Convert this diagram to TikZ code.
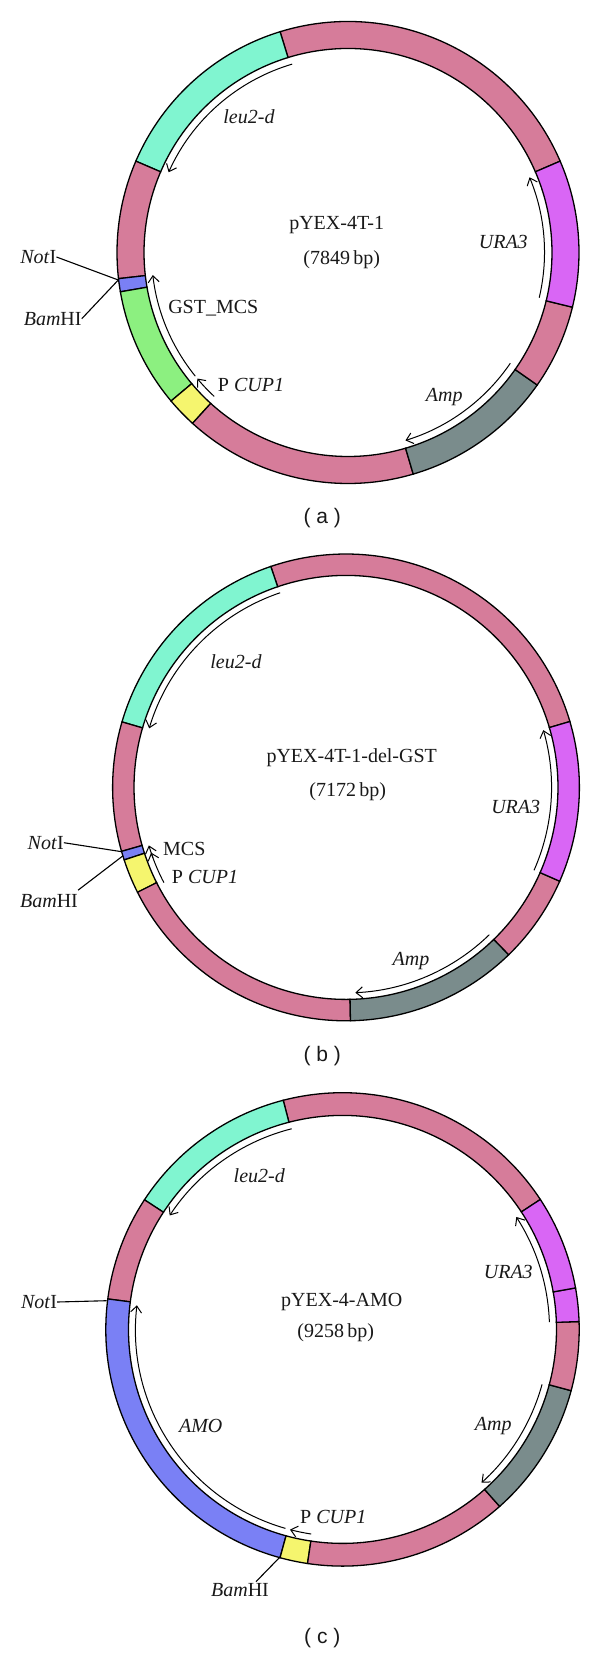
\documentclass[tikz,border=0pt]{standalone}
\usepackage{fontspec}
\setmainfont{Liberation Serif}
\setsansfont{Liberation Sans}
\usetikzlibrary{arrows.meta,calc}
\definecolor{rpink}{HTML}{D67C9A}
\definecolor{rteal}{HTML}{80F5D0}
\definecolor{rmag}{HTML}{D966F5}
\definecolor{rgray}{HTML}{7A8C8C}
\definecolor{rgreen}{HTML}{8CF080}
\definecolor{ryellow}{HTML}{F5F56E}
\definecolor{rblue}{HTML}{7A80F5}
\tikzset{
  ringseg/.style={draw=black,line width=1.3pt,line join=miter},
  geneline/.style={draw=black,line width=1pt,-{Straight Barb[length=6.5pt,width=11pt,line width=1pt]}},
  siteline/.style={draw=black,line width=1.1pt},
  lab/.style={font=\fontsize{20}{22}\selectfont,inner sep=0pt,text=black!90,yshift=-1pt},
  captext/.style={font=\sffamily\fontsize{21}{23}\selectfont,inner sep=0pt,text=black!90},
}
% \seg{colour}{start}{end}: ring band between angles, using \cx \cy \ro \ri
\newcommand{\seg}[3]{%
  \filldraw[ringseg,fill=#1] ($(\cx,\cy)+(#2:\ro pt)$) arc[start angle=#2,end angle=#3,radius=\ro pt]
    -- ($(\cx,\cy)+(#3:\ri pt)$) arc[start angle=#3,end angle=#2,radius=\ri pt] -- cycle;}
% \gene{name}{start}{end}: arrow along the circle of radius \ra
\newcommand{\gene}[3]{%
  \coordinate (#1) at ($(\cx,\cy)+(#2:\ra pt)$);
  \draw[geneline] (#1) arc[start angle=#2,end angle=#3,radius=\ra pt];}
\begin{document}
\begin{tikzpicture}[x=1pt,y=1pt]
\useasboundingbox[fill=white] (0,0) rectangle (600,-1654);
% ---------- a ----------
\def\cx{348}\def\cy{-252.5}\def\ro{231}\def\ri{204}\def\ra{196.5}
\seg{rpink}{23.3}{107.1}
\seg{rteal}{107.1}{156.7}
\seg{rpink}{156.7}{186.5}
\seg{rblue}{186.5}{189.8}
\seg{rgreen}{189.8}{220}
\seg{ryellow}{220}{227.7}
\seg{rpink}{227.7}{286.4}
\seg{rgray}{286.4}{325}
\seg{rpink}{325}{346.3}
\seg{rmag}{346.3}{383.3}
\gene{aleu}{106.5}{155.9}
\gene{aura}{-13.3}{22.5}
\gene{aamp}{-34.3}{-73}
\gene{agst}{219}{186.6}
\gene{acup}{227.1}{219.9}
\coordinate (asite) at (118.3,-280);
\node[lab] (anot) at (38.3,-256) {\textit{Not}I};
\node[lab] (abam) at (52.7,-317.7) {\textit{Bam}HI};
\draw[siteline] (anot.east) -- (asite);
\draw[siteline] (abam.east) -- (asite);
\node[lab] (anam) at (336.7,-223.8) {pYEX-4T-1};
\node[lab] (asiz) at (341.7,-258.6) {(7849\,bp)};
\node[lab] (alleu) at (249,-115.6) {\textit{leu2-d}};
\node[lab] (alura) at (503.3,-241) {\textit{URA3}};
\node[lab] (alamp) at (444.3,-396) {\textit{Amp}};
\node[lab] (algst) at (213.3,-307.6) {GST\_MCS};
\node[lab] (alcup) at (251,-383.6) {P \textit{CUP1}};
\node[captext] (acap) at (322.3,-518) {( a )};
% ---------- b ----------
\def\cx{346}\def\cy{-787.4}\def\ro{233.4}\def\ri{212}\def\ra{205.5}
\seg{rpink}{16.4}{108.8}
\seg{rteal}{108.8}{163.7}
\seg{rpink}{163.7}{195.9}
\seg{rblue}{195.9}{198.1}
\seg{ryellow}{198.1}{206.7}
\seg{rpink}{206.7}{271.1}
\seg{rgray}{271.1}{314.2}
\seg{rpink}{314.2}{336.3}
\seg{rmag}{336.3}{376.4}
\gene{bleu}{108.7}{163.3}
\gene{bura}{-23.8}{16.2}
\gene{bamp}{-45.8}{-87.4}
\gene{bmcs}{200}{196.4}
\gene{bcup}{207.6}{198.5}
\coordinate (bsiten) at (121.7,-851.7);
\coordinate (bsiteb) at (122.7,-856);
\node[lab] (bnot) at (45.7,-841.7) {\textit{Not}I};
\node[lab] (bbam) at (49,-900) {\textit{Bam}HI};
\draw[siteline] (bnot.east) -- (bsiten);
\draw[siteline] ($(bbam.north east)+(0,4)$) -- (bsiteb);
\node[lab] (bnam) at (351.7,-756.2) {pYEX-4T-1-del-GST};
\node[lab] (bsiz) at (347.7,-790.7) {(7172\,bp)};
\node[lab] (blleu) at (236,-660.8) {\textit{leu2-d}};
\node[lab] (blura) at (515.7,-805.5) {\textit{URA3}};
\node[lab] (blamp) at (411,-960.4) {\textit{Amp}};
\node[lab] (blmcs) at (184.3,-847.8) {MCS};
\node[lab] (blcup) at (205,-876) {P \textit{CUP1}};
\node[captext] (bcap) at (322.3,-1055.8) {( b )};
% ---------- c ----------
\def\cx{342.5}\def\cy{-1329.4}\def\ro{236.7}\def\ri{214}\def\ra{207}
\seg{rpink}{33.3}{104.5}
\seg{rteal}{104.5}{146.8}
\seg{rpink}{146.8}{172.6}
\seg{rblue}{172.6}{254.7}
\seg{ryellow}{254.7}{261.5}
\seg{rpink}{261.5}{311.6}
\seg{rgray}{311.6}{345}
\seg{rpink}{345}{361.9}
\seg{rmag}{361.9}{370.1}
\seg{rmag}{370.1}{393.3}
\gene{cleu}{104.2}{146.6}
\gene{cura}{2}{32.9}
\gene{camp}{-15.4}{-47.8}
\gene{camo}{254}{173.3}
\gene{ccup}{261.3}{255.3}
\coordinate (csiten) at (106.7,-1300.7);
\coordinate (csiteb) at (280,-1557);
\node[lab] (cnot) at (39,-1301) {\textit{Not}I};
\node[lab] (cbam) at (240,-1589.5) {\textit{Bam}HI};
\draw[siteline] (cnot.east) -- (csiten);
\draw[siteline] ($(cbam.north)+(16,2)$) -- (csiteb);
\node[lab] (cnam) at (341.7,-1301.4) {pYEX-4-AMO};
\node[lab] (csiz) at (335.7,-1331.4) {(9258\,bp)};
\node[lab] (clleu) at (259.3,-1174.4) {\textit{leu2-d}};
\node[lab] (clura) at (508.3,-1271) {\textit{URA3}};
\node[lab] (clamp) at (493.3,-1424.8) {\textit{Amp}};
\node[lab] (clamo) at (200.7,-1424.8) {\textit{AMO}};
\node[lab] (clcup) at (333.3,-1516.3) {P \textit{CUP1}};
\node[captext] (ccap) at (322.3,-1638) {( c )};
\end{tikzpicture}
\end{document}
